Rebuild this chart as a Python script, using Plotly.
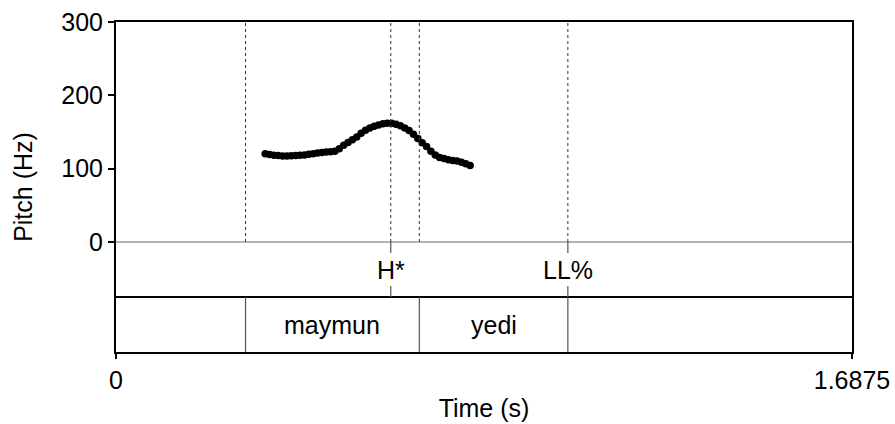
import plotly.graph_objects as go

# ---- data ----
pitch_times = [0.342, 0.352, 0.362, 0.372, 0.382, 0.392, 0.402, 0.412, 0.422, 0.432,
               0.442, 0.452, 0.462, 0.472, 0.482, 0.492, 0.502, 0.512, 0.522, 0.532,
               0.542, 0.552, 0.562, 0.572, 0.582, 0.592, 0.602, 0.612, 0.622, 0.632,
               0.642, 0.652, 0.662, 0.672, 0.682, 0.692, 0.702, 0.712, 0.722, 0.732,
               0.742, 0.752, 0.762, 0.772, 0.782, 0.792, 0.802, 0.812]
pitch_hz = [120.3, 119.3, 118.3, 117.8, 117.3, 117.3, 117.6, 117.9, 118.3, 118.8,
            119.5, 120.3, 121.3, 122.1, 122.6, 123.1, 123.6, 127.3, 131.8, 135.8,
            139.3, 143.3, 148.3, 152.3, 155.3, 157.8, 159.6, 161.1, 162.1, 162.0,
            160.7, 158.5, 155.6, 152.1, 146.8, 141.3, 135.3, 130.3, 123.8, 118.8,
            115.3, 113.8, 112.3, 111.3, 110.3, 108.8, 106.8, 104.3]

total_dur = 1.6875
word_bounds = [0.0, 0.297, 0.6955, 1.036, 1.6875]
word_labels = ["", "maymun", "yedi", ""]
tone_times = [0.630, 1.036]
tone_labels = ["H*", "LL%"]

y_ticks = [0, 100, 200, 300]
x_ticks = [0, total_dur]
x_ticklabels = ["0", "1.6875"]

PMAX = 300
TIER_H = 75  # height of each tier in pitch units
Y_MIN = -2 * TIER_H

FONT = "Arial, Liberation Sans, Helvetica, sans-serif"
FS = 25

fig = go.Figure()
fig.add_trace(go.Scatter(
    x=pitch_times, y=pitch_hz, mode="markers",
    marker=dict(color="black", size=7.5, line=dict(width=0)),
    showlegend=False, hoverinfo="skip"))

shapes = []
# dotted guides in pitch area
guide_times = sorted(set(word_bounds[1:-1] + tone_times))
for t in guide_times:
    shapes.append(dict(type="line", xref="x", yref="y", x0=t, x1=t, y0=0, y1=PMAX,
                       line=dict(color="#333333", width=1, dash="dot")))
# line between pitch area and tier 1
shapes.append(dict(type="line", xref="x", yref="y", x0=0, x1=total_dur, y0=0, y1=0,
                   line=dict(color="#666666", width=1.2)))
# boundary between tiers
shapes.append(dict(type="line", xref="x", yref="y", x0=0, x1=total_dur, y0=-TIER_H, y1=-TIER_H,
                   line=dict(color="black", width=2)))
# point tier ticks
for t in tone_times:
    shapes.append(dict(type="line", xref="x", yref="y", x0=t, x1=t, y0=0, y1=-15,
                       line=dict(color="#555555", width=1.2)))
    shapes.append(dict(type="line", xref="x", yref="y", x0=t, x1=t, y0=-60, y1=-TIER_H,
                       line=dict(color="#555555", width=1.2)))
# interval tier boundaries
for t in word_bounds[1:-1]:
    shapes.append(dict(type="line", xref="x", yref="y", x0=t, x1=t, y0=-TIER_H, y1=Y_MIN,
                       line=dict(color="#555555", width=1.2)))

annotations = []
for t, lab in zip(tone_times, tone_labels):
    annotations.append(dict(x=t, y=-TIER_H / 2, xref="x", yref="y", text=lab,
                            showarrow=False, font=dict(family=FONT, size=FS, color="black"),
                            xanchor="center", yanchor="middle"))
for i, lab in enumerate(word_labels):
    if lab:
        annotations.append(dict(x=(word_bounds[i] + word_bounds[i + 1]) / 2, y=-1.5 * TIER_H,
                                xref="x", yref="y", text=lab, showarrow=False,
                                font=dict(family=FONT, size=FS, color="black"),
                                xanchor="center", yanchor="middle"))

fig.update_layout(
    width=895, height=424,
    margin=dict(l=116, r=43, t=22, b=72),
    plot_bgcolor="white", paper_bgcolor="white",
    font=dict(family=FONT, size=FS, color="black"),
    shapes=shapes, annotations=annotations,
    xaxis=dict(range=[0, total_dur], tickvals=x_ticks, ticktext=x_ticklabels,
               automargin=False,
               showgrid=False, zeroline=False, showline=True, mirror=True,
               linecolor="black", linewidth=2, ticks="outside", ticklen=5,
               tickwidth=1.5, tickcolor="black",
               tickfont=dict(family=FONT, size=FS, color="black"),
               title=dict(text="Time (s)", font=dict(family=FONT, size=FS, color="black"),
                          standoff=6)),
    yaxis=dict(range=[Y_MIN, PMAX], tickvals=y_ticks,
               automargin=False,
               showgrid=False, zeroline=False, showline=True, mirror=True,
               linecolor="black", linewidth=2, ticks="outside", ticklen=6,
               tickwidth=1.5, tickcolor="black",
               tickfont=dict(family=FONT, size=FS, color="black"),
               title=dict(text="Pitch (Hz)", font=dict(family=FONT, size=FS, color="black"),
                          standoff=22)),
)

fig.write_html("out.html")
